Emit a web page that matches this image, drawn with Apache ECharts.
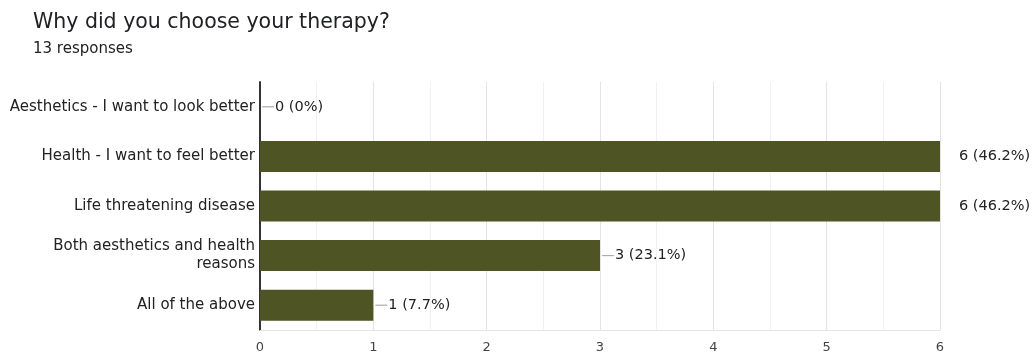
<!DOCTYPE html>
<html>
<head>
<meta charset="utf-8">
<script src="https://cdn.jsdelivr.net/npm/echarts@6/dist/echarts.min.js"></script>
<style>
  html, body { margin: 0; padding: 0; background: #fff; }
  #chart { width: 1036px; height: 356px; }
</style>
</head>
<body>
<div id="chart"></div>
<script>
// Survey answers, counts and the share of all responses
const categories = [
  'Aesthetics - I want to look better',
  'Health - I want to feel better',
  'Life threatening disease',
  'Both aesthetics and health\nreasons',
  'All of the above'
];
const counts = [0, 6, 6, 3, 1];
const percents = ['0%', '46.2%', '46.2%', '23.1%', '7.7%'];
const xTicks = [0, 1, 2, 3, 4, 5, 6];

const barColor = '#4e5423';
const FONT = 'DejaVu Sans';

const chart = echarts.init(document.getElementById('chart'), null, { renderer: 'canvas' });

const option = {
  animation: false,
  backgroundColor: '#ffffff',
  title: {
    text: 'Why did you choose your therapy?',
    subtext: '13 responses',
    left: 28,
    top: 7,
    itemGap: 9,
    textStyle: { fontFamily: FONT, fontSize: 20.5, fontWeight: 'normal', color: '#202124' },
    subtextStyle: { fontFamily: FONT, fontSize: 15, color: '#202124' }
  },
  grid: { left: 260, right: 96, top: 82, bottom: 26, containLabel: false },
  xAxis: {
    type: 'value',
    min: xTicks[0],
    max: xTicks[xTicks.length - 1],
    interval: 1,
    axisLine: { show: true, lineStyle: { color: '#e6e6e6' } },
    axisTick: { show: false },
    axisLabel: { margin: 11, color: '#444', fontFamily: FONT, fontSize: 13 },
    splitLine: { show: true, lineStyle: { color: '#e4e4e4' } },
    minorTick: { show: false, splitNumber: 2 },
    minorSplitLine: { show: true, lineStyle: { color: '#f1f1f1' } }
  },
  yAxis: {
    type: 'category',
    inverse: true,
    data: categories,
    axisLine: { show: true, lineStyle: { color: '#333', width: 2 } },
    axisTick: { show: false },
    axisLabel: {
      margin: 5,
      color: '#222',
      fontFamily: FONT,
      fontSize: 15,
      lineHeight: 18,
      align: 'right'
    }
  },
  series: [{
    type: 'bar',
    data: counts.map((v, i) => ({
      value: v,
      label: v === xTicks[xTicks.length - 1]
        ? { distance: 18, formatter: '{t|' + v + ' (' + percents[i] + ')}' }
        : { distance: 2, formatter: '{l|}{t|' + v + ' (' + percents[i] + ')}' }
    })),
    barWidth: 31,
    itemStyle: { color: barColor },
    label: {
      show: true,
      position: 'right',
      rich: {
        l: { width: 12, height: 0, borderColor: '#8a8a8a', borderWidth: 0.5, padding: 0 },
        t: { fontFamily: FONT, fontSize: 14.5, color: '#222', padding: [0, 0, 0, 1] }
      }
    }
  }]
};

chart.setOption(option);
</script>
</body>
</html>
